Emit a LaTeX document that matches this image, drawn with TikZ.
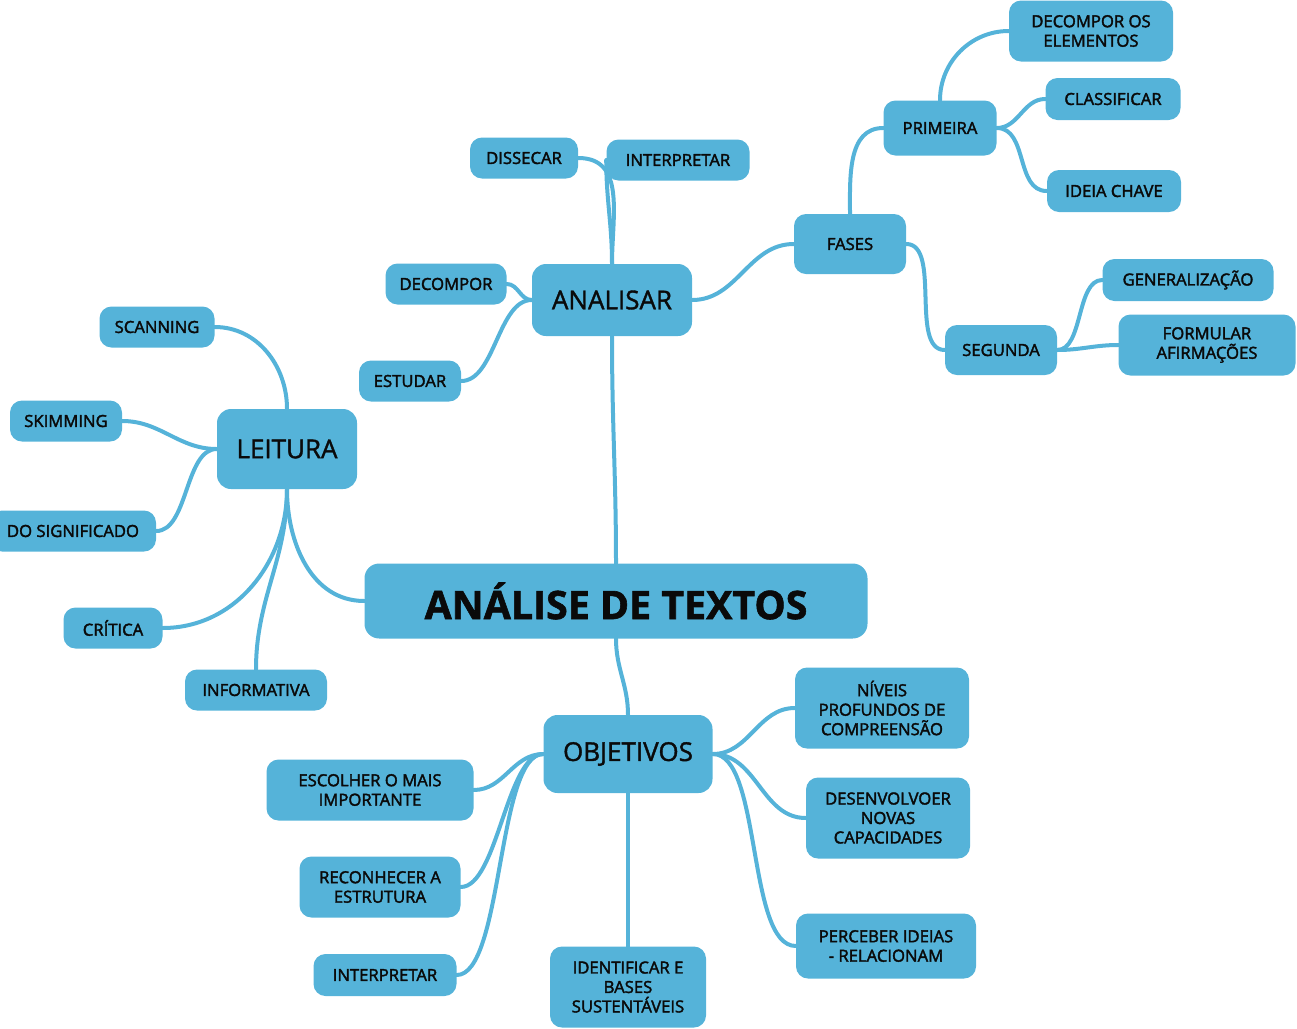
\documentclass[tikz,border=0pt]{standalone}
\usepackage{fontspec}
\setmainfont{Open Sans}
\newfontfamily\smallf{Open Sans}[FakeBold=2.2]
\newfontfamily\midf{Open Sans}[FakeBold=1.4]
\newfontfamily\titlef{Open Sans Bold}[FakeBold=1.5]
\usetikzlibrary{backgrounds}
\definecolor{mmblue}{HTML}{55B3D9}
\definecolor{mmtext}{HTML}{0A0A0A}
\tikzset{
  base/.style={fill=mmblue, draw=none, text=mmtext, inner sep=0pt, align=center},
  sbox/.style={base, rounded corners=9pt, font=\smallf\fontsize{12.5}{14.6}\selectfont},
  mbox/.style={base, rounded corners=10.5pt, font=\midf\fontsize{19.5}{22}\selectfont},
  tbox/.style={base, rounded corners=11pt, font=\titlef\fontsize{29.5}{34}\selectfont},
  wh/.style 2 args={minimum width=#1*0.75pt, minimum height=#2*0.75pt},
  conn/.style={draw=mmblue, line width=3pt, line cap=round}
}
\begin{document}
\begin{tikzpicture}[x=0.75pt,y=-0.75pt]
\useasboundingbox (0,0) rectangle (1297,1029);
% central
\node[tbox, wh={503}{75}] (title) at (616,601) {ANÁLISE DE TEXTOS};
\node[mbox, wh={160}{72}] (analisar) at (612,300) {ANALISAR};
\node[mbox, wh={140}{80}] (leitura) at (287,449) {LEITURA};
\node[mbox, wh={169}{78}] (objetivos) at (628,754) {OBJETIVOS};
% analisar branch
\node[sbox, wh={112}{60}] (fases) at (850,244) {FASES};
\node[sbox, wh={113}{55}] (primeira) at (940,128) {PRIMEIRA};
\node[sbox, wh={164}{61}] (decompos) at (1091,31) {DECOMPOR OS\\ELEMENTOS};
\node[sbox, wh={135}{42}] (classificar) at (1113,99) {CLASSIFICAR};
\node[sbox, wh={134}{42}] (ideia) at (1114,191) {IDEIA CHAVE};
\node[sbox, wh={112}{50}] (segunda) at (1001,350) {SEGUNDA};
\node[sbox, wh={171}{42}] (gen) at (1188,280) {GENERALIZAÇÃO};
\node[sbox, wh={177}{61}] (formular) at (1207,345) {FORMULAR\\AFIRMAÇÕES};
\node[sbox, wh={108}{41}] (dissecar) at (524,158) {DISSECAR};
\node[sbox, wh={143}{41}] (interpa) at (678,160) {INTERPRETAR};
\node[sbox, wh={121}{41}] (decompor) at (446,284) {DECOMPOR};
\node[sbox, wh={102}{41}] (estudar) at (410,381) {ESTUDAR};
% leitura branch
\node[sbox, wh={115}{41}] (scanning) at (157,327) {SCANNING};
\node[sbox, wh={112}{41}] (skimming) at (66,421) {SKIMMING};
\node[sbox, wh={166}{41}] (dosig) at (73,531) {DO SIGNIFICADO};
\node[sbox, wh={99}{41}] (critica) at (113,628) {CRÍTICA};
\node[sbox, wh={142}{41}] (informativa) at (256,690) {INFORMATIVA};
% objetivos branch
\node[sbox, wh={207}{61}] (escolher) at (370,790) {ESCOLHER O MAIS\\IMPORTANTE};
\node[sbox, wh={161}{61}] (reconhecer) at (380,887) {RECONHECER A\\ESTRUTURA};
\node[sbox, wh={143}{42}] (interpb) at (385,975) {INTERPRETAR};
\node[sbox, wh={156}{81}] (identificar) at (628,987) {IDENTIFICAR E\\BASES\\SUSTENTÁVEIS};
\node[sbox, wh={174}{81}] (niveis) at (882,708) {NÍVEIS\\PROFUNDOS DE\\COMPREENSÃO};
\node[sbox, wh={164}{81}] (desenv) at (888,818) {DESENVOLVOER\\NOVAS\\CAPACIDADES};
\node[sbox, wh={180}{65}] (perceber) at (886,946) {PERCEBER IDEIAS\\- RELACIONAM};

\begin{scope}[on background layer]
% main
\draw[conn] (title.north) to[out=90,in=-90] (analisar.south);
\draw[conn] (title.west) to[out=180,in=-90] (leitura.south);
\draw[conn] (title.south) to[out=-90,in=90] (objetivos.north);
% analisar
\draw[conn] (analisar.north) to[out=90,in=0,looseness=1.1] (dissecar.east);
\draw[conn] (analisar.north) to[out=90,in=-90] (interpa.west);
\draw[conn] (analisar.west) to[out=180,in=0] (decompor.east);
\draw[conn] (analisar.west) to[out=180,in=0,looseness=0.8] (estudar.east);
\draw[conn] (analisar.east) to[out=0,in=180] (fases.west);
\draw[conn] (fases.north) to[out=90,in=180] (primeira.west);
\draw[conn] (fases.east) to[out=0,in=180,looseness=0.8] (segunda.west);
\draw[conn] (primeira.north) to[out=90,in=180] (decompos.west);
\draw[conn] (primeira.east) to[out=0,in=180] (classificar.west);
\draw[conn] (primeira.east) to[out=0,in=180] (ideia.west);
\draw[conn] (segunda.east) to[out=0,in=180,looseness=0.8] (gen.west);
\draw[conn] (segunda.east) to[out=0,in=180] (formular.west);
% leitura
\draw[conn] (leitura.north) to[out=90,in=0] (scanning.east);
\draw[conn] (leitura.west) to[out=180,in=0] (skimming.east);
\draw[conn] (leitura.west) to[out=180,in=0,looseness=0.8] (dosig.east);
\draw[conn] (leitura.south) to[out=-90,in=0] (critica.east);
\draw[conn] (leitura.south) to[out=-90,in=90] (informativa.north);
% objetivos
\draw[conn] (objetivos.west) to[out=180,in=0] (escolher.east);
\draw[conn] (objetivos.west) to[out=180,in=0,looseness=0.6] (reconhecer.east);
\draw[conn] (objetivos.west) to[out=180,in=0,looseness=0.5] (interpb.east);
\draw[conn] (objetivos.south) to[out=-90,in=90] (identificar.north);
\draw[conn] (objetivos.east) to[out=0,in=180] (niveis.west);
\draw[conn] (objetivos.east) to[out=0,in=180] (desenv.west);
\draw[conn] (objetivos.east) to[out=0,in=180,looseness=0.6] (perceber.west);
\end{scope}
\end{tikzpicture}
\end{document}
